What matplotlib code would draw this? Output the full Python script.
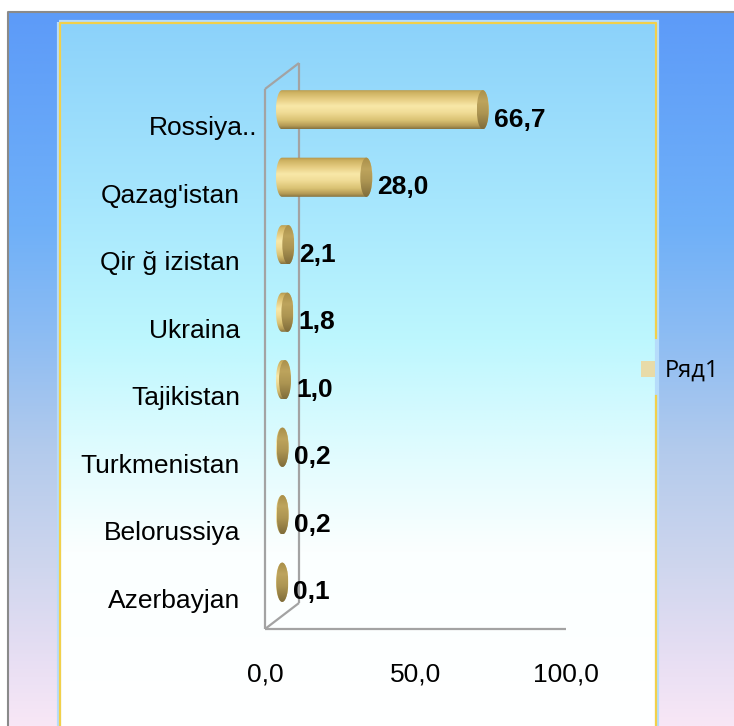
import numpy as np
import matplotlib
matplotlib.use('Agg')
import matplotlib.pyplot as plt
import matplotlib.transforms as mtransforms
from matplotlib.colors import to_rgb
from matplotlib.patches import Rectangle, Ellipse, PathPatch, Patch
from matplotlib.path import Path

# ---------------- data ----------------
categories = ["Rossiya..", "Qazag'istan", "Qir \u011f izistan", "Ukraina",
              "Tajikistan", "Turkmenistan", "Belorussiya", "Azerbayjan"]
values = [66.7, 28.0, 2.1, 1.8, 1.0, 0.2, 0.2, 0.1]
x_ticks = [0, 50, 100]
x_tick_labels = ["0,0", "50,0", "100,0"]
series_name = "Ряд1"

# ---------------- style ----------------
W, H = 734, 726
FONT = 'Liberation Sans'
FS = 19
fig = plt.figure(figsize=(W / 100, H / 100), dpi=100)


def vgrad(stops, n=256):
    pos = [p for p, _ in stops]
    cols = np.array([to_rgb(c) for _, c in stops])
    t = np.linspace(0, 1, n)
    arr = np.stack([np.interp(t, pos, cols[:, k]) for k in range(3)], axis=1)
    return np.repeat(arr[:, None, :], 2, axis=1)


# background (pixel coordinates for decoration only)
bg = fig.add_axes([0, 0, 1, 1])
bg.axis('off')
outer = vgrad([(0.0, '#5d9bf8'), (0.30, '#6fb0f8'), (0.45, '#8cbcf3'),
               (0.62, '#b4cbec'), (0.78, '#cfd6ee'), (0.90, '#e6def3'), (1.0, '#f8e7f6')])
bg.imshow(outer, extent=(8, W, H, 12), aspect='auto', interpolation='bilinear', zorder=0)
inner = vgrad([(0.0, '#8cd2fa'), (0.25, '#a6e6fd'), (0.45, '#bdf7fe'),
               (0.62, '#e2fcfe'), (0.75, '#fbffff'), (1.0, '#ffffff')])
bg.imshow(inner, extent=(60, 656, H, 23), aspect='auto', interpolation='bilinear', zorder=1)
bg.plot([8, 8, W], [H, 12, 12], color='#8a8a8a', lw=1.5, zorder=2)
bg.add_patch(Rectangle((59, 22), 598, H, fill=False, ec='#b6dcfb', lw=3, zorder=2))
yc = '#f2d04a'
bg.plot([656, 656, 60, 60], [338, 23, 23, H + 5], color=yc, lw=1.6, zorder=3)
bg.plot([656, 656], [396, H + 5], color=yc, lw=1.6, zorder=3)
bg.set_xlim(0, W)
bg.set_ylim(H, 0)

# ---------------- front plane axes ----------------
AX_L, AX_R, AX_T, AX_B = 265, 566, 89, 629
ax = fig.add_axes([AX_L / W, (H - AX_B) / H, (AX_R - AX_L) / W, (AX_B - AX_T) / H])
ax.patch.set_alpha(0)
n = len(categories)
ypos = np.arange(n)
ax.set_xlim(0, 100)
ax.set_ylim(n - 0.5, -0.5)
for s in ax.spines.values():
    s.set_visible(False)
ax.set_yticks(ypos, categories)
ax.set_xticks(x_ticks, x_tick_labels)
ax.tick_params(axis='y', length=0, pad=18, labelsize=FS)
ax.tick_params(axis='x', length=0, pad=24, labelsize=FS)
for lbl in ax.get_yticklabels() + ax.get_xticklabels():
    lbl.set_fontfamily(FONT)
for k, tick in enumerate(ax.yaxis.get_major_ticks()):
    nudge_x = 17 if k == 0 else 0
    tick.label1.set_transform(tick.label1.get_transform() +
                              mtransforms.ScaledTranslation(nudge_x / 100, -3 / 100,
                                                            fig.dpi_scale_trans))

px_x = (AX_R - AX_L) / 100.0
px_y = (AX_B - AX_T) / n
DEPTH_X, DEPTH_Y = 34, 26
ddx = DEPTH_X / px_x
ddy = -DEPTH_Y / px_y
wall = dict(color='#a3a3a3', lw=1.6, clip_on=False, solid_capstyle='butt')
ymin, ymax = -0.5, n - 0.5
ax.plot([0, 0], [ymin, ymax], **wall)
ax.plot([0, 100], [ymax, ymax], **wall)
ax.plot([ddx, ddx], [ymin + ddy, ymax + ddy], **wall)
ax.plot([0, ddx], [ymin, ymin + ddy], **wall)
ax.plot([0, ddx], [ymax, ymax + ddy], **wall)

# ---------------- bars axes (mid depth) ----------------
axb = fig.add_axes([(AX_L + DEPTH_X / 2) / W, (H - AX_B + DEPTH_Y / 2) / H,
                    (AX_R - AX_L) / W, (AX_B - AX_T) / H])
axb.axis('off')
axb.patch.set_alpha(0)

body_grad = vgrad([(0.0, '#b0924a'), (0.08, '#cdb160'), (0.25, '#e6cd82'),
                   (0.42, '#f8e8a8'), (0.58, '#f1dd98'), (0.78, '#dac273'),
                   (0.92, '#b49a55'), (1.0, '#857240')])
cap_grad = vgrad([(0.0, '#a88e48'), (0.3, '#bda45d'), (0.6, '#ad9552'), (1.0, '#7f6c3a')])

bh = 0.58
a = 6.0 / px_x
b = bh / 2
th = np.linspace(np.pi / 2, 3 * np.pi / 2, 40)
th2 = np.linspace(-np.pi / 2, np.pi / 2, 40)
for i, v in enumerate(values):
    yc_ = ypos[i]
    left = np.column_stack([a * np.cos(th), yc_ - b * np.sin(th)])
    right = np.column_stack([v + a * np.cos(th2), yc_ - b * np.sin(th2)])
    verts = np.vstack([left, right, left[:1]])
    body = PathPatch(Path(verts, closed=True), fc='none', ec='none', clip_on=False)
    axb.add_patch(body)
    im = axb.imshow(body_grad, extent=(-a, v + a, yc_ + b, yc_ - b), aspect='auto',
                    interpolation='bilinear', zorder=2)
    im.set_clip_box(fig.bbox)
    im.set_clip_path(body)
    cap = Ellipse((v, yc_), 2 * a, 2 * b, fc='none', ec='none', clip_on=False)
    axb.add_patch(cap)
    imc = axb.imshow(cap_grad, extent=(v - a, v + a, yc_ + b, yc_ - b), aspect='auto',
                     interpolation='bilinear', zorder=3)
    imc.set_clip_box(fig.bbox)
    imc.set_clip_path(cap)
    axb.annotate(f"{v:.1f}".replace('.', ','), xy=(v + a, yc_), xytext=(5, -10),
                 textcoords='offset pixels', ha='left', va='center',
                 fontsize=FS, fontweight='bold', family=FONT, zorder=5,
                 annotation_clip=False)
axb.set_xlim(0, 100)
axb.set_ylim(n - 0.5, -0.5)

# ---------------- legend ----------------
leg = fig.legend(handles=[Patch(facecolor='#e8dba8', edgecolor='none', label=series_name)],
                 loc='center left', bbox_to_anchor=(641 / W, 1 - 371 / H), frameon=False,
                 borderpad=0, borderaxespad=0, handlelength=0.58, handleheight=0.68,
                 handletextpad=0.42, prop={'family': 'Open Sans', 'size': 17})

fig.savefig('out.png', dpi=100)
